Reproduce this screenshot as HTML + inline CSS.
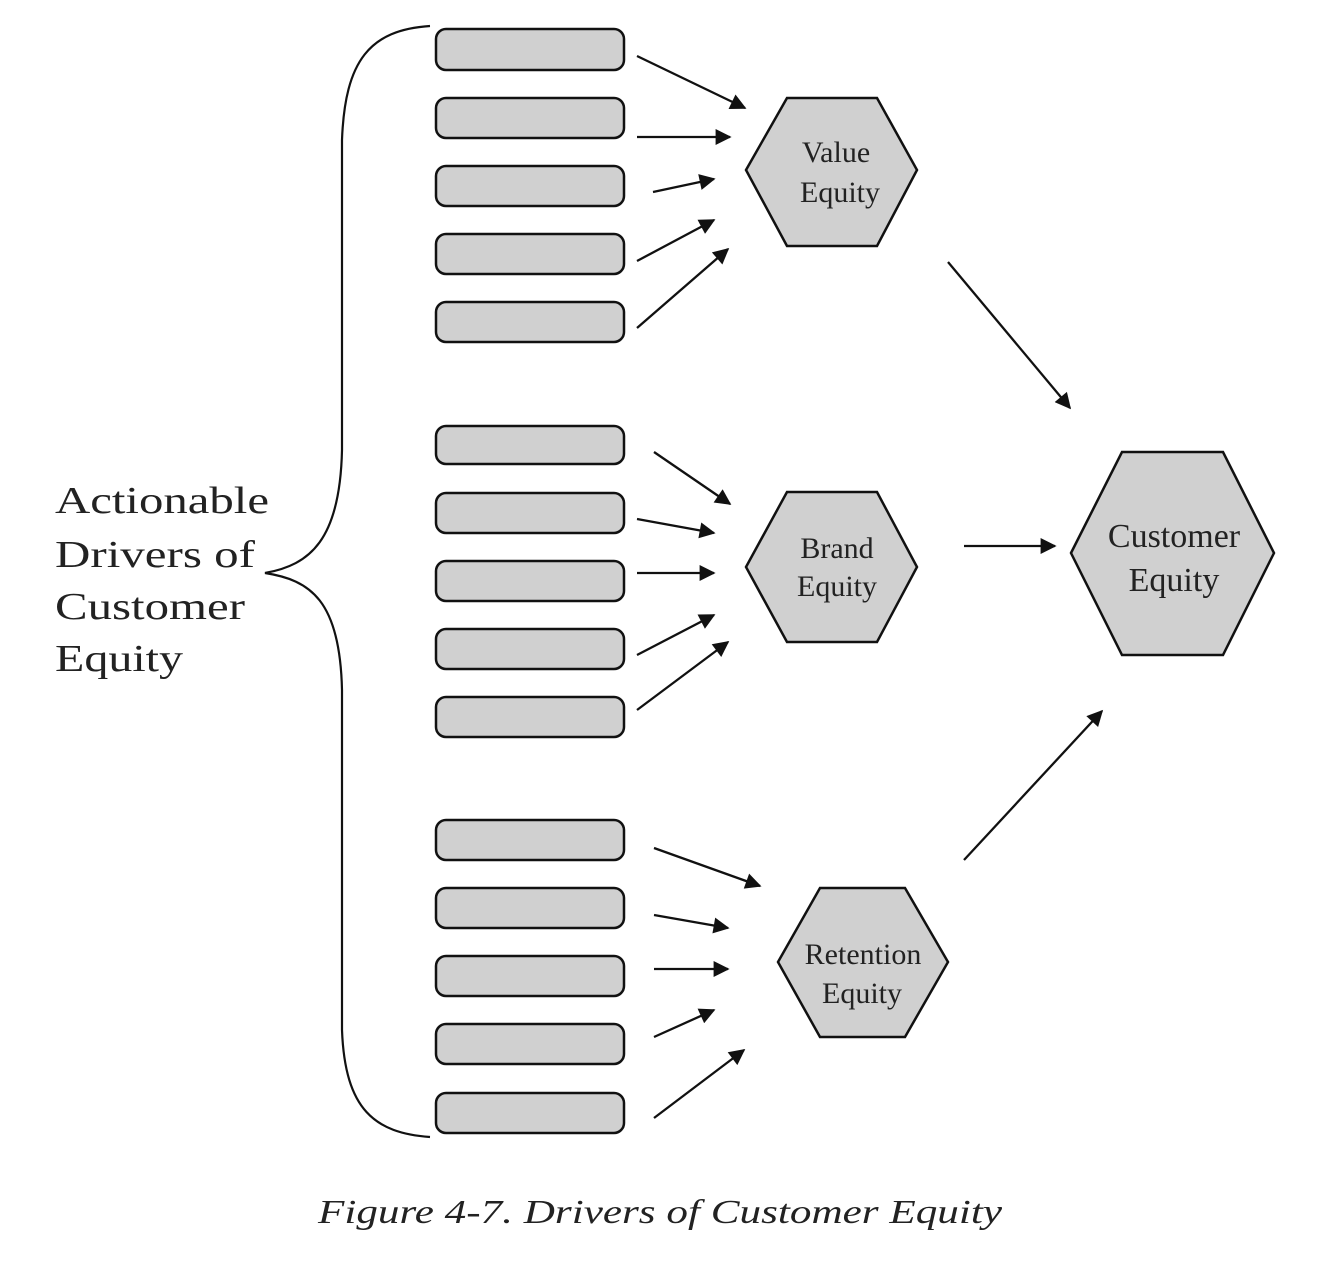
<!DOCTYPE html>
<html><head><meta charset="utf-8"><style>
html,body{margin:0;padding:0;background:#fff;}
svg{display:block;}
text{font-family:"Liberation Serif",serif;fill:#222;}
</style></head><body>
<svg width="1334" height="1261" viewBox="0 0 1334 1261" xmlns="http://www.w3.org/2000/svg">
<defs>
<marker id="b" viewBox="0 0 10 10" refX="9" refY="5" markerWidth="22" markerHeight="16" orient="auto" markerUnits="userSpaceOnUse">
<path d="M0,0 L10,5 L0,10 z" fill="#111"/>
</marker>
</defs>
<g fill="#d0d0d0" stroke="#111" stroke-width="2.5">
<rect x="436" y="29" width="188" height="41" rx="10"/>
<rect x="436" y="98" width="188" height="40" rx="10"/>
<rect x="436" y="166" width="188" height="40" rx="10"/>
<rect x="436" y="234" width="188" height="40" rx="10"/>
<rect x="436" y="302" width="188" height="40" rx="10"/>
<rect x="436" y="426" width="188" height="38" rx="10"/>
<rect x="436" y="493" width="188" height="40" rx="10"/>
<rect x="436" y="561" width="188" height="40" rx="10"/>
<rect x="436" y="629" width="188" height="40" rx="10"/>
<rect x="436" y="697" width="188" height="40" rx="10"/>
<rect x="436" y="820" width="188" height="40" rx="10"/>
<rect x="436" y="888" width="188" height="40" rx="10"/>
<rect x="436" y="956" width="188" height="40" rx="10"/>
<rect x="436" y="1024" width="188" height="40" rx="10"/>
<rect x="436" y="1093" width="188" height="40" rx="10"/>
<polygon points="746,170 787,98 877,98 917,170 877,246 787,246"/>
<polygon points="746,567 787,492 877,492 917,567 877,642 787,642"/>
<polygon points="778,962 820,888 905,888 948,962 905,1037 820,1037"/>
<polygon points="1071,553 1122,452 1223,452 1274,553 1223,655 1122,655"/>
</g>
<g stroke="#111" stroke-width="2.2" fill="none">
<path d="M430,26 C370,30 345,60 342,140 L342,450 C340,540 310,565 265,573 C310,580 340,600 342,690 L342,1030 C345,1110 375,1133 430,1137"/>
</g>
<g stroke="#111" stroke-width="2.3" marker-end="url(#b)">
<line x1="637" y1="56" x2="745" y2="108"/>
<line x1="637" y1="137" x2="730" y2="137"/>
<line x1="653" y1="192" x2="714" y2="179"/>
<line x1="637" y1="261" x2="714" y2="220"/>
<line x1="637" y1="328" x2="728" y2="249"/>
<line x1="654" y1="452" x2="730" y2="504"/>
<line x1="637" y1="519" x2="714" y2="533"/>
<line x1="637" y1="573" x2="714" y2="573"/>
<line x1="637" y1="655" x2="714" y2="615"/>
<line x1="637" y1="710" x2="728" y2="642"/>
<line x1="654" y1="848" x2="760" y2="886"/>
<line x1="654" y1="915" x2="728" y2="928"/>
<line x1="654" y1="969" x2="728" y2="969"/>
<line x1="654" y1="1037" x2="714" y2="1010"/>
<line x1="654" y1="1118" x2="744" y2="1050"/>
<line x1="948" y1="262" x2="1070" y2="408"/>
<line x1="964" y1="546" x2="1055" y2="546"/>
<line x1="964" y1="860" x2="1102" y2="711"/>
</g>
<g font-size="30" text-anchor="middle">
<text x="836" y="162">Value</text>
<text x="840" y="202">Equity</text>
<text x="837" y="558">Brand</text>
<text x="837" y="596">Equity</text>
<text x="863" y="964">Retention</text>
<text x="862" y="1003">Equity</text>
</g>
<g font-size="34" text-anchor="middle">
<text x="1174" y="547">Customer</text>
<text x="1174" y="591">Equity</text>
</g>
<g font-size="38">
<text x="55" y="513" textLength="214" lengthAdjust="spacingAndGlyphs">Actionable</text>
<text x="55" y="567" textLength="200" lengthAdjust="spacingAndGlyphs">Drivers of</text>
<text x="55" y="619" textLength="190" lengthAdjust="spacingAndGlyphs">Customer</text>
<text x="55" y="671" textLength="128" lengthAdjust="spacingAndGlyphs">Equity</text>
</g>
<text x="318" y="1223" font-size="34" font-style="italic" textLength="684" lengthAdjust="spacingAndGlyphs">Figure 4-7.  Drivers of Customer Equity</text>
</svg>
</body></html>
